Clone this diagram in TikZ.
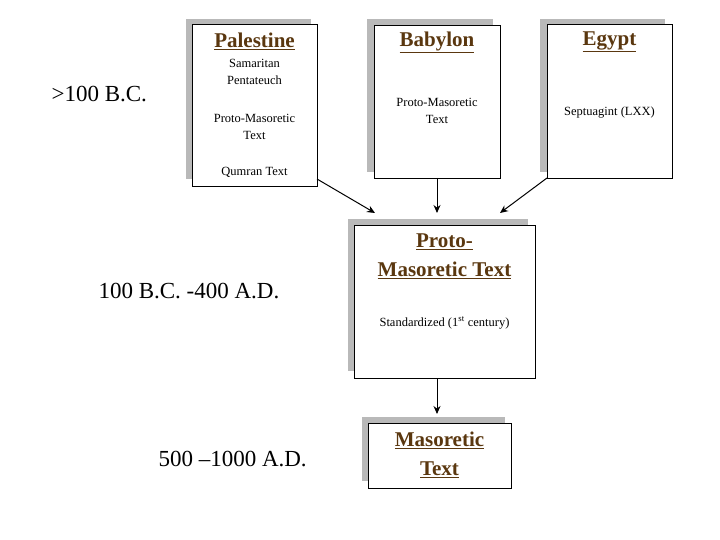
\documentclass[tikz,border=0pt]{standalone}
\usepackage{fontspec}
\usetikzlibrary{arrows.meta}
\setmainfont{Liberation Serif}
\begin{document}
\begin{tikzpicture}[x=1pt,y=-1pt,
  boxs/.style={draw=black,fill=white,inner sep=0},
  ttl/.style={font=\bfseries\fontsize{21}{29}\selectfont,align=center},
  sm/.style={font=\fontsize{12.5}{17}\selectfont,align=center},
  era/.style={font=\fontsize{23}{26}\selectfont,anchor=west},
  arr/.style={-{Stealth[length=8pt,width=7pt]},line width=1pt}]
\useasboundingbox (0,0) rectangle (720,540);
\fill[white] (0,0) rectangle (720,540);
\definecolor{ttlc}{RGB}{90,55,15}
\tikzset{ttl/.append style={text=ttlc}}
% shadows
\fill[gray!55] (186,19) rectangle (311,179);
\fill[gray!55] (367,19) rectangle (493,172);
\fill[gray!55] (540,19) rectangle (665,172);
\fill[gray!55] (348,219) rectangle (528,371);
\fill[gray!55] (362,417) rectangle (505,481);
% boxes
\draw[boxs] (192,24) rectangle (317,186);
\draw[boxs] (374,25) rectangle (500,178);
\draw[boxs] (547,24) rectangle (672,178);
\draw[boxs] (354,225) rectangle (535,378);
\draw[boxs] (368,423) rectangle (511,488);
\coordinate (pal) at (317,179); \coordinate (bab) at (437,178); \coordinate (egy) at (547,178);
\coordinate (pmtl) at (375,213); \coordinate (pmtr) at (500,213);
\coordinate (pmtb) at (437,378); \coordinate (mt) at (437,414);
% texts
\node[ttl] (t1) at (254.5,41) {\underline{Palestine}};
\node[sm] (s1) at (254.5,72) {Samaritan\\Pentateuch};
\node[sm] (s2) at (254.5,127) {Proto-Masoretic\\Text};
\node[sm] (s3) at (254.5,172) {Qumran Text};
\node[ttl] (t2) at (437,42) {\underline{Babylon}};
\node[sm] (s4) at (437,111) {Proto-Masoretic\\Text};
\node[ttl] (t3) at (609.5,42) {\underline{Egypt}};
\node[sm] (s5) at (609.5,113) {Septuagint (LXX)};
\node[ttl] (t4) at (444.5,256) {\underline{Proto-}\\\underline{Masoretic Text}};
\node[sm] (s6) at (444.5,323) {Standardized (1\textsuperscript{st} century)};
\node[ttl] (t5) at (439.5,455) {\underline{Masoretic}\\\underline{Text}};
\node[era] (e1) at (48,94) {>100 B.C.};
\node[era] (e2) at (95,291) {100 B.C. -400 A.D.};
\node[era] (e3) at (155,459) {500 –1000 A.D.};
% arrows
\draw[arr] (pal) -- (pmtl);
\draw[arr] (bab) -- (bab |- pmtl);
\draw[arr] (egy) -- (pmtr);
\draw[arr] (pmtb) -- (mt);
\end{tikzpicture}
\end{document}
